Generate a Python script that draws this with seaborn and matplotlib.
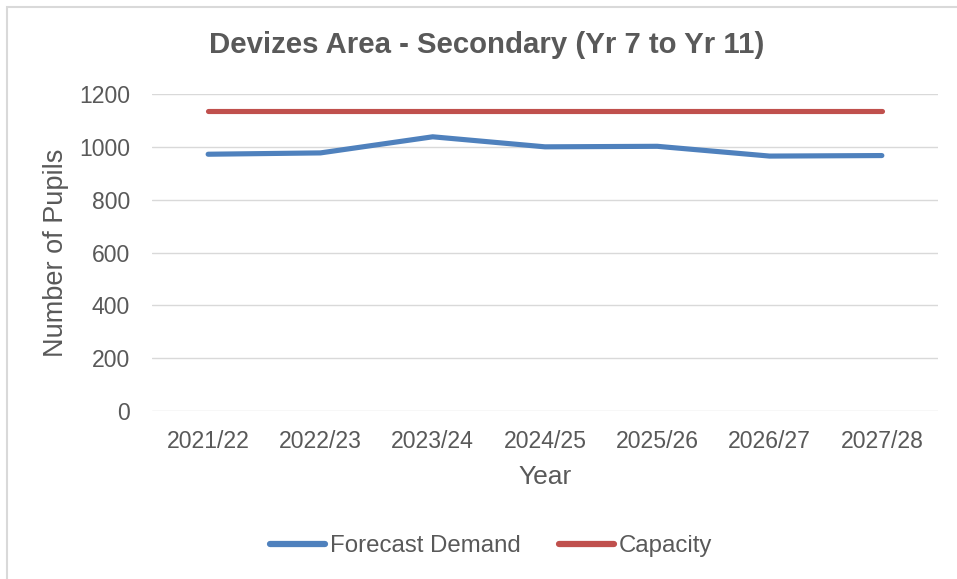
import matplotlib
matplotlib.use('Agg')
import matplotlib.pyplot as plt
import pandas as pd
import seaborn as sns
from matplotlib.patches import Rectangle

# Chart data
years = ['2021/22', '2022/23', '2023/24', '2024/25', '2025/26', '2026/27', '2027/28']
forecast_demand = [972, 977, 1038, 1000, 1002, 965, 967]
capacity = [1136, 1136, 1136, 1136, 1136, 1136, 1136]
y_ticks = [0, 200, 400, 600, 800, 1000, 1200]

# Long-form table for seaborn
df = pd.DataFrame({
    'Year': years * 2,
    'Pupils': forecast_demand + capacity,
    'Series': ['Forecast Demand'] * len(years) + ['Capacity'] * len(years),
})

sns.set_theme(style='white')
plt.rcParams['font.family'] = ['Liberation Sans', 'DejaVu Sans']
text_grey = '#595959'
grid_grey = '#D9D9D9'

fig = plt.figure(figsize=(9.57, 5.79), dpi=100)
ax = fig.add_axes([152 / 957, 1 - 411 / 579, (938 - 152) / 957, (411 - 94) / 579])

sns.lineplot(data=df, x='Year', y='Pupils', hue='Series',
             palette={'Forecast Demand': '#4F81BD', 'Capacity': '#C0504D'},
             linewidth=3.7, ax=ax, legend=True, sort=False)
for line in ax.get_lines():
    line.set_solid_capstyle('round')
    line.set_solid_joinstyle('round')

ax.set_xlim(-0.5, len(years) - 0.5)
ax.set_ylim(0, 1200)
ax.set_yticks(y_ticks)
ax.yaxis.grid(True, color=grid_grey, linewidth=1.0)
ax.set_axisbelow(True)
for side in ['top', 'right', 'left', 'bottom']:
    ax.spines[side].set_visible(False)
ax.tick_params(axis='both', length=0, labelsize=16.6, labelcolor=text_grey)
ax.tick_params(axis='y', pad=16)
ax.tick_params(axis='x', pad=14)

ax.set_xlabel('Year', fontsize=19, color=text_grey, labelpad=8)
ax.set_ylabel('Number of Pupils', fontsize=19.5, color=text_grey, labelpad=7)
fig.text(487 / 957, 1 - 45 / 579, 'Devizes Area - Secondary (Yr 7 to Yr 11)',
         ha='center', va='center', fontsize=21.2, fontweight='bold', color=text_grey)

handles, labels = ax.get_legend_handles_labels()
ax.legend_.remove()
for h in handles:
    h.set_linewidth(4.5)
    h.set_solid_capstyle('round')
leg = fig.legend(handles, labels, loc='center', bbox_to_anchor=(491 / 957, 1 - 546 / 579),
                 ncol=2, frameon=False, fontsize=17.3, handlelength=2.3,
                 handletextpad=0.2, columnspacing=1.6)
for t in leg.get_texts():
    t.set_color(text_grey)

# light chart border like the Excel chart area
fig.patches.append(Rectangle((7 / 957, -0.05), 1.0, 1 - 7 / 579 + 0.05, transform=fig.transFigure,
                             fill=False, edgecolor=grid_grey, linewidth=1.5))

fig.savefig('out.png', dpi=100)
